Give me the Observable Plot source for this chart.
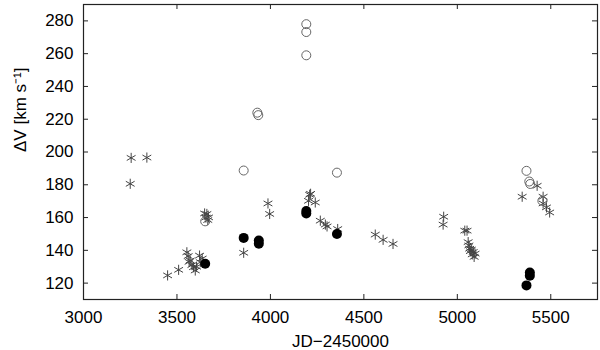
<!DOCTYPE html>
<html><head><meta charset="utf-8">
<script src="https://cdn.jsdelivr.net/npm/d3@7"></script>
<script src="https://cdn.jsdelivr.net/npm/@observablehq/plot@0.6"></script>
<style>body{margin:0;background:#fff}</style>
</head><body><div id="chart"></div>
<script>
// Asterisk series
const starJD = [3250,3255,3339,3450,3509,3553,3560,3565,3571,3580,3589,3598,3605,3621,3625,3635,3648,3655,3660,3665,3669,3857,3987,3996,4204,4210,4215,4240,4267,4294,4303,4360,4561,4603,4656,4924,4927,5040,5052,5058,5062,5066,5070,5075,5080,5085,5090,5095,5347,5427,5459,5459,5477,5494];
const starDV = [180.6,196.4,196.6,124.7,128.1,138.8,136.5,133,133.8,131,129.7,127.7,130,136.8,132.8,135,162.5,160,162.2,158.5,160.1,138.5,168.6,162.2,170.2,173.9,174.5,169.2,158.1,155.7,154.6,153,149.6,146.4,143.9,155.7,160.5,152,152,145,143,141,139.5,140.5,137.5,139,136,138,172.7,179.4,172.7,168.6,166.2,163.1];
// Open circles
const openJD = [3651,3857,3930,3935,4192,4192,4192,4356,5370,5385,5390,5455];
const openDV = [157.7,188.7,224,222.5,278,273.2,259,187.4,188.5,182,180.5,170.2];
// Filled circles
const fillJD = [3651,3857,3938,3938,4192,4192,4356,5370,5388,5388];
const fillDV = [131.8,147.6,146,144,164,162.5,150,118.6,126.5,124.5];
// Axes
const xTicks = [3000,3500,4000,4500,5000,5500];
const yTicks = [120,140,160,180,200,220,240,260,280];
const xDomain = [3000,5750];
const yDomain = [110,290];
const xLabel = "JD−2450000";
const yLabel = "ΔV [km s⁻¹]";

const W = 600, H = 350, mL = 83, mR = 3, mT = 4, mB = 51;
const fW = W - mL - mR, fH = H - mT - mB;
const T = 5;

const stars = starJD.map((x,i)=>({x, y: starDV[i]}));
const opens = openJD.map((x,i)=>({x, y: openDV[i]}));
const fills = fillJD.map((x,i)=>({x, y: fillDV[i]}));

const chart = Plot.plot({
  width: W, height: H,
  marginLeft: mL, marginRight: mR, marginTop: mT, marginBottom: mB,
  style: {fontFamily: "'Liberation Sans', Arial, sans-serif", fontSize: "17px", color: "#000", background: "#fff"},
  x: {domain: xDomain},
  y: {domain: yDomain},
  marks: [
    Plot.axisX({ticks: xTicks, tickSize: 0, tickPadding: 11, tickFormat: d => String(d), label: null}),
    Plot.axisY({ticks: yTicks, tickSize: 0, tickPadding: 10, tickFormat: d => String(d), label: null}),
    Plot.text([xLabel], {text: d => d, frameAnchor: "bottom", dy: 42, lineAnchor: "middle", fill: "#000"}),
    Plot.text([yLabel], {text: d => d, frameAnchor: "left", dx: -63, rotate: -90, lineAnchor: "middle", fill: "#000"}),
    Plot.tickX(xTicks, {x: d=>d, insetTop: fH - T, stroke: "#222"}),
    Plot.tickX(xTicks, {x: d=>d, insetBottom: fH - T, stroke: "#222"}),
    Plot.tickY(yTicks, {y: d=>d, insetRight: fW - T, stroke: "#222"}),
    Plot.tickY(yTicks, {y: d=>d, insetLeft: fW - T, stroke: "#222"}),
    Plot.dot(stars, {x: "x", y: "y", symbol: "asterisk", r: 4.8, stroke: "#444", strokeWidth: 1}),
    Plot.dot(opens, {x: "x", y: "y", symbol: "circle", r: 4.5, stroke: "#666", fill: "none", strokeWidth: 1}),
    Plot.dot(fills, {x: "x", y: "y", symbol: "circle", r: 5, fill: "#000", stroke: "none"}),
    Plot.frame({stroke: "#222", strokeWidth: 1.2})
  ]
});
document.getElementById("chart").appendChild(chart);
</script>
</body></html>
